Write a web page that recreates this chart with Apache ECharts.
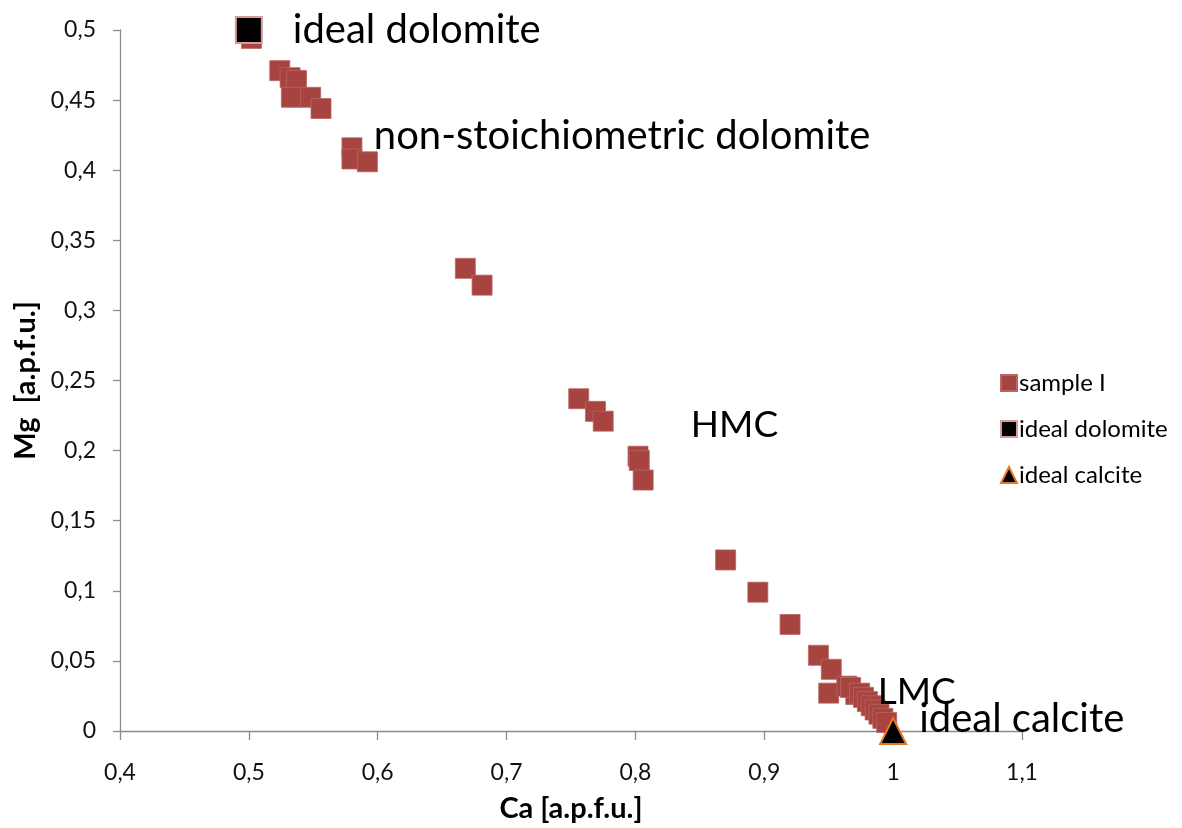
<!DOCTYPE html>
<html>
<head>
<meta charset="utf-8">
<script src="https://cdn.jsdelivr.net/npm/echarts@6/dist/echarts.min.js"></script>
<style>
  html, body { margin: 0; padding: 0; background: #fff; width: 100%; height: 100%; overflow: hidden; }
  #chart { width: 1182px; height: 828px; }
</style>
</head>
<body>
<div id="chart"></div>
<script>
// ---- data ----
var sampleCa = [0.502, 0.524, 0.532, 0.537, 0.533, 0.548, 0.556,
  0.580, 0.580, 0.592,
  0.668, 0.681,
  0.756, 0.769, 0.775, 0.802, 0.803, 0.806,
  0.870, 0.895, 0.920, 0.942, 0.952, 0.950, 0.964, 0.971,
  0.967, 0.974, 0.977, 0.980, 0.983, 0.986, 0.989, 0.992, 0.995];
var sampleMg = [0.494, 0.471, 0.466, 0.464, 0.452, 0.452, 0.444,
  0.416, 0.408, 0.406,
  0.330, 0.318,
  0.237, 0.228, 0.221, 0.196, 0.193, 0.179,
  0.122, 0.099, 0.076, 0.054, 0.044, 0.027, 0.032, 0.026,
  0.031, 0.027, 0.024, 0.021, 0.018, 0.015, 0.012, 0.009, 0.006];
var idealDolomite = [0.5, 0.5];
var idealCalcite = [1.0, 0.0];
var xTicks = { min: 0.4, max: 1.1, interval: 0.1 };
var yTicks = { min: 0, max: 0.5, interval: 0.05 };
var annotationText = ['non-stoichiometric dolomite', 'HMC', 'LMC'];
var annotationCa = [0.597, 0.843, 0.988];
var annotationMg = [0.424, 0.218, 0.028];

var FONT = 'Lato, "Open Sans", sans-serif';

var samplePts = sampleCa.map(function (c, i) { return [c, sampleMg[i]]; });
var annPts = annotationText.map(function (t, i) {
  return { value: [annotationCa[i], annotationMg[i]], label: { formatter: t, fontSize: (t.length > 3 ? 40 : 37) } };
});

function fmt(v) { return String(+v.toFixed(2)).replace('.', ','); }

var chart = echarts.init(document.getElementById('chart'));
chart.setOption({
  animation: false,
  backgroundColor: '#fff',
  grid: { left: 120, right: 160, top: 30, bottom: 97, containLabel: false, outerBoundsMode: 'none' },
  xAxis: {
    type: 'value', min: xTicks.min, max: xTicks.max, interval: xTicks.interval,
    name: 'Ca [a.p.f.u.]', nameLocation: 'middle', nameGap: 63,
    nameTextStyle: { fontFamily: FONT, fontWeight: 'bold', fontSize: 29, color: '#000' },
    axisLine: { show: true, onZero: false, lineStyle: { color: '#8c8c8c', width: 1.3 } },
    axisTick: { show: true, length: 9, inside: false, lineStyle: { color: '#8c8c8c', width: 1.3 } },
    axisLabel: { formatter: fmt, margin: 30, fontFamily: FONT, fontSize: 23, color: '#111' },
    splitLine: { show: false }
  },
  yAxis: {
    type: 'value', min: yTicks.min, max: yTicks.max, interval: yTicks.interval,
    name: 'Mg  [a.p.f.u.]', nameLocation: 'middle', nameGap: 78,
    nameTextStyle: { fontFamily: FONT, fontWeight: 'bold', fontSize: 29, color: '#000' },
    axisLine: { show: true, onZero: false, lineStyle: { color: '#8c8c8c', width: 1.3 } },
    axisTick: { show: true, length: 7, inside: false, lineStyle: { color: '#8c8c8c', width: 1.3 } },
    axisLabel: { formatter: fmt, margin: 24, fontFamily: FONT, fontSize: 23, color: '#111' },
    splitLine: { show: false }
  },
  legend: {
    orient: 'vertical', left: 995, top: 366,
    itemWidth: 16, itemHeight: 16, itemGap: 22,
    textStyle: { fontFamily: FONT, fontSize: 24, color: '#000', padding: [0, 0, 0, -3] },
    data: [
      { name: 'sample I', icon: 'rect' },
      { name: 'ideal dolomite', icon: 'rect' },
      { name: 'ideal calcite', icon: 'triangle' }
    ]
  },
  series: [
    {
      name: 'sample I', type: 'scatter', symbol: 'rect', symbolSize: 20,
      itemStyle: { color: '#A8443F', borderColor: '#B86662', borderWidth: 0.8, opacity: 1 },
      data: samplePts, z: 2
    },
    {
      name: 'ideal dolomite', type: 'scatter', symbol: 'rect', symbolSize: 26,
      itemStyle: { color: '#000', borderColor: '#D99A9C', borderWidth: 2, opacity: 1 },
      label: { show: true, formatter: 'ideal dolomite', position: 'right', distance: 30,
        fontFamily: FONT, fontSize: 40, color: '#000' },
      data: [idealDolomite], z: 3
    },
    {
      name: 'ideal calcite', type: 'scatter', symbol: 'triangle', symbolSize: 26,
      itemStyle: { color: '#000', borderColor: '#E87722', borderWidth: 2, opacity: 1 },
      label: { show: true, formatter: 'ideal calcite', position: 'right', distance: 12,
        offset: [0, -12], fontFamily: FONT, fontSize: 40, color: '#000' },
      data: [idealCalcite], z: 4
    },
    {
      name: 'annotations', type: 'scatter', symbolSize: 0, silent: true,
      itemStyle: { opacity: 1 },
      label: { show: true, position: 'right', distance: 0, fontFamily: FONT, fontSize: 37, color: '#000' },
      data: annPts, z: 5
    }
  ]
});
</script>
</body>
</html>
